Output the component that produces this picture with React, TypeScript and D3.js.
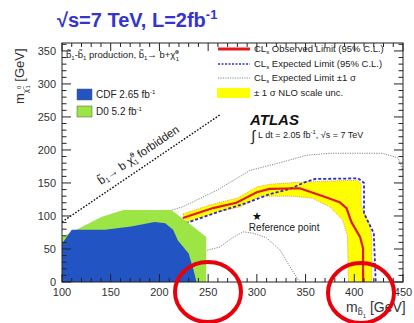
import React from 'react';
import * as d3 from 'd3';

// axis ticks
const xTicks = [100, 150, 200, 250, 300, 350, 400, 450];
const yTicks = [0, 50, 100, 150, 200, 250, 300, 350];

// Tevatron exclusions (m_sbottom, m_neutralino)
const d0X = [100, 100, 141, 163, 212, 226, 248, 248];
const d0Y = [0, 68, 99, 109, 109, 94, 68, 0];
const cdfX = [100, 100, 110, 144, 171, 195, 206, 214, 219, 230, 235, 238];
const cdfY = [0, 58, 79, 79, 84, 91, 89, 79, 63, 43, 18, 0];

// CLs observed limit
const obsX = [224, 255, 279, 300, 313, 344, 368, 385, 392, 397, 406, 409, 409];
const obsY = [97, 112, 120, 136, 141, 142, 130, 121, 112, 91, 68, 51, 0];

// NLO scale uncertainty band
const bandUpX = [224, 255, 280, 300, 313, 344, 375, 403, 407, 407, 416, 418, 418];
const bandUpY = [103, 118, 127, 144, 148, 151, 153, 154, 148, 117, 86, 64, 0];
const bandLoX = [228, 259, 283, 303, 337, 357, 375, 388, 393, 394];
const bandLoY = [91, 106, 114, 130, 130, 127, 114, 94, 71, 0];

// CLs expected limit
const expX = [227, 262, 290, 313, 334, 349, 360, 404, 410, 410, 420, 422];
const expY = [89, 107, 120, 133, 141, 151, 156, 157, 150, 104, 74, 0];

// expected +-1 sigma
const sigUpX = [213, 224, 259, 293, 327, 351, 375, 429, 445, 450];
const sigUpY = [109, 114, 139, 169, 182, 192, 195, 195, 188, 169];
const sigDnX = [249, 262, 275, 286, 296, 310, 324, 334, 344];
const sigDnY = [48, 53, 67, 76, 74, 67, 48, 23, 0];

// kinematic limit
const forbidX = [100, 262];
const forbidY = [91, 253];

// reference point
const refPoint = [300, 100];

const font = 'Liberation Sans, Arial, Helvetica, sans-serif';

const App = () => {
  const left = 62, right = 403, top = 43, bottom = 282;
  const x = d3.scaleLinear().domain([100, 450]).range([left, right]);
  const y = d3.scaleLinear().domain([0, 362]).range([bottom, top]);

  const pts = (xs: number[], ys: number[]) => xs.map((v, i) => [v, ys[i]] as [number, number]);
  const line = d3.line<[number, number]>().x(d => x(d[0])).y(d => y(d[1]));
  const area = (xs: number[], ys: number[]) => line(pts(xs, ys)) + 'Z';

  const band = pts(bandUpX, bandUpY).concat(pts(bandLoX, bandLoY).reverse());

  const xMinor = d3.range(100, 451, 10);
  const yMinor = d3.range(0, 361, 10);

  const fx = x(forbidX[0]);
  const fy = y(forbidY[0]);
  const angle = (Math.atan2(y(forbidY[1]) - fy, x(forbidX[1]) - fx) * 180) / Math.PI;

  return (
    <svg width={414} height={323} style={{ position: 'absolute', left: 0, top: 0, background: '#fff' }} fontFamily={font}>
      <defs>
        <clipPath id="plot">
          <rect x={left} y={top} width={right - left} height={bottom - top} />
        </clipPath>
      </defs>

      {/* title */}
      <text x={57} y={27} fontSize={20} fontWeight="bold" fill="#3434d0">
        √s=7 TeV, L=2fb<tspan dy={-8} fontSize={13}>-1</tspan>
      </text>

      <g clipPath="url(#plot)">
        <path d={line(pts(sigUpX, sigUpY)) || ''} fill="none" stroke="#7f8a78" strokeWidth={1} strokeDasharray="1.2,1.2" />
        <path d={line(pts(sigDnX, sigDnY)) || ''} fill="none" stroke="#7f8a78" strokeWidth={1} strokeDasharray="1.2,1.2" />
        <path d={(line(band) || '') + 'Z'} fill="#ffff00" stroke="#f0a040" strokeWidth={1} strokeDasharray="1,1" />
        <path d={line(pts(expX, expY)) || ''} fill="none" stroke="#2a2ad6" strokeWidth={1.8} strokeDasharray="3,2" />
        <path d={line(pts(obsX, obsY)) || ''} fill="none" stroke="#e41a1a" strokeWidth={2.2} />
        <path d={area(d0X, d0Y)} fill="#9de445" />
        <path d={area(cdfX, cdfY)} fill="#2354c4" />
        <path d={line(pts(forbidX, forbidY)) || ''} fill="none" stroke="#111" strokeWidth={1.4} strokeDasharray="1.6,1.6" />
      </g>

      {/* frame and inward ticks */}
      <rect x={left} y={top} width={right - left} height={bottom - top} fill="none" stroke="#222" strokeWidth={1} />
      {xMinor.map(v => {
        const len = v % 50 === 0 ? 8 : 4;
        return (
          <g key={'x' + v} stroke="#222" strokeWidth={1}>
            <line x1={x(v)} x2={x(v)} y1={bottom} y2={bottom - len} />
            <line x1={x(v)} x2={x(v)} y1={top} y2={top + len} />
          </g>
        );
      })}
      {yMinor.map(v => {
        const len = v % 50 === 0 ? 9 : 4.5;
        return (
          <g key={'y' + v} stroke="#222" strokeWidth={1}>
            <line x1={left} x2={left + len} y1={y(v)} y2={y(v)} />
            <line x1={right} x2={right - len} y1={y(v)} y2={y(v)} />
          </g>
        );
      })}
      {xTicks.map(v => (
        <text key={'xl' + v} x={x(v)} y={296} fontSize={11} textAnchor="middle" fill="#333">{v}</text>
      ))}
      {yTicks.map(v => (
        <text key={'yl' + v} x={56} y={y(v) + 4} fontSize={11} textAnchor="end" fill="#333">{v}</text>
      ))}

      {/* axis titles */}
      <text transform="translate(24,104) rotate(-90)" fontSize={13} fill="#333">
        m<tspan dy={4} fontSize={8}>χ̃</tspan><tspan dy={-7} fontSize={6}>0</tspan><tspan dx={-3} dy={9} fontSize={6}>1</tspan>
        <tspan dy={-6}> [GeV]</tspan>
      </text>
      <text x={346} y={312} fontSize={14} fill="#333">
        m<tspan dy={3} fontSize={9}>b̃</tspan><tspan dy={3} fontSize={6}>1</tspan><tspan dy={-6}> [GeV]</tspan>
      </text>

      {/* production label */}
      <text x={66} y={58} fontSize={9.5} fill="#222">
        b̃<tspan dy={2} fontSize={6}>1</tspan><tspan dy={-2}>-b̃</tspan><tspan dy={2} fontSize={6}>1</tspan>
        <tspan dy={-2}> production, b̃</tspan><tspan dy={2} fontSize={6}>1</tspan>
        <tspan dy={-2}>→ b+χ̃</tspan><tspan dy={-4} fontSize={6}>0</tspan><tspan dx={-3} dy={7} fontSize={6}>1</tspan>
      </text>

      {/* Tevatron legend */}
      <rect x={77} y={89} width={15} height={11} fill="#2354c4" stroke="#555" strokeWidth={0.5} />
      <text x={96} y={98} fontSize={10} fill="#222">CDF 2.65 fb<tspan dy={-4} fontSize={6}>-1</tspan></text>
      <rect x={77} y={106} width={15} height={11} fill="#9de445" stroke="#555" strokeWidth={0.5} />
      <text x={96} y={115} fontSize={10} fill="#222">D0 5.2 fb<tspan dy={-4} fontSize={6}>-1</tspan></text>

      {/* kinematic limit label */}
      <text transform={`translate(${fx + 39},${fy - 37}) rotate(${angle})`} fontSize={11.5} fill="#222">
        b̃<tspan dy={2} fontSize={7}>1</tspan><tspan dy={-2}>→ b χ̃</tspan><tspan dy={-5} fontSize={7}>0</tspan>
        <tspan dx={-4} dy={8} fontSize={7}>1</tspan><tspan dy={-3}> forbidden</tspan>
      </text>

      {/* CLs legend */}
      <line x1={218} x2={250} y1={49} y2={49} stroke="#e41a1a" strokeWidth={3} />
      <text x={254} y={52} fontSize={9.5} fill="#222">CL<tspan dy={2} fontSize={6}>s</tspan><tspan dy={-2}> Observed Limit (95% C.L.)</tspan></text>
      <line x1={218} x2={250} y1={64} y2={64} stroke="#2a2ad6" strokeWidth={1.5} strokeDasharray="2,1.5" />
      <text x={254} y={67} fontSize={9.5} fill="#222">CL<tspan dy={2} fontSize={6}>s</tspan><tspan dy={-2}> Expected Limit (95% C.L.)</tspan></text>
      <line x1={218} x2={250} y1={78} y2={78} stroke="#7f8a78" strokeWidth={1} strokeDasharray="1.2,1.2" />
      <text x={254} y={81} fontSize={9.5} fill="#222">CL<tspan dy={2} fontSize={6}>s</tspan><tspan dy={-2}> Expected Limit ±1 σ</tspan></text>
      <rect x={217} y={88} width={33} height={10} fill="#ffff00" />
      <text x={254} y={96} fontSize={9.5} fill="#222">± 1 σ NLO scale unc.</text>

      <text x={250} y={125} fontSize={15} fontWeight="bold" fontStyle="italic" fill="#111">ATLAS</text>
      <text x={251} y={141} fontSize={15} fill="#222">∫</text>
      <text x={258} y={138} fontSize={9} fill="#222">
        L dt = 2.05 fb<tspan dy={-4} fontSize={6}>-1</tspan><tspan dy={4}>, √s = 7 TeV</tspan>
      </text>

      {/* reference point */}
      <text x={x(refPoint[0])} y={y(refPoint[1]) + 4} fontSize={11} textAnchor="middle" fill="#111">★</text>
      <text x={x(refPoint[0]) - 8} y={y(refPoint[1]) + 15} fontSize={10} fill="#222">Reference point</text>

      {/* highlight circles */}
      <ellipse cx={208} cy={292} rx={33} ry={30} fill="none" stroke="#e8000b" strokeWidth={4} />
      <ellipse cx={361} cy={293} rx={33} ry={30} fill="none" stroke="#e8000b" strokeWidth={4} />
    </svg>
  );
};

export default App;
